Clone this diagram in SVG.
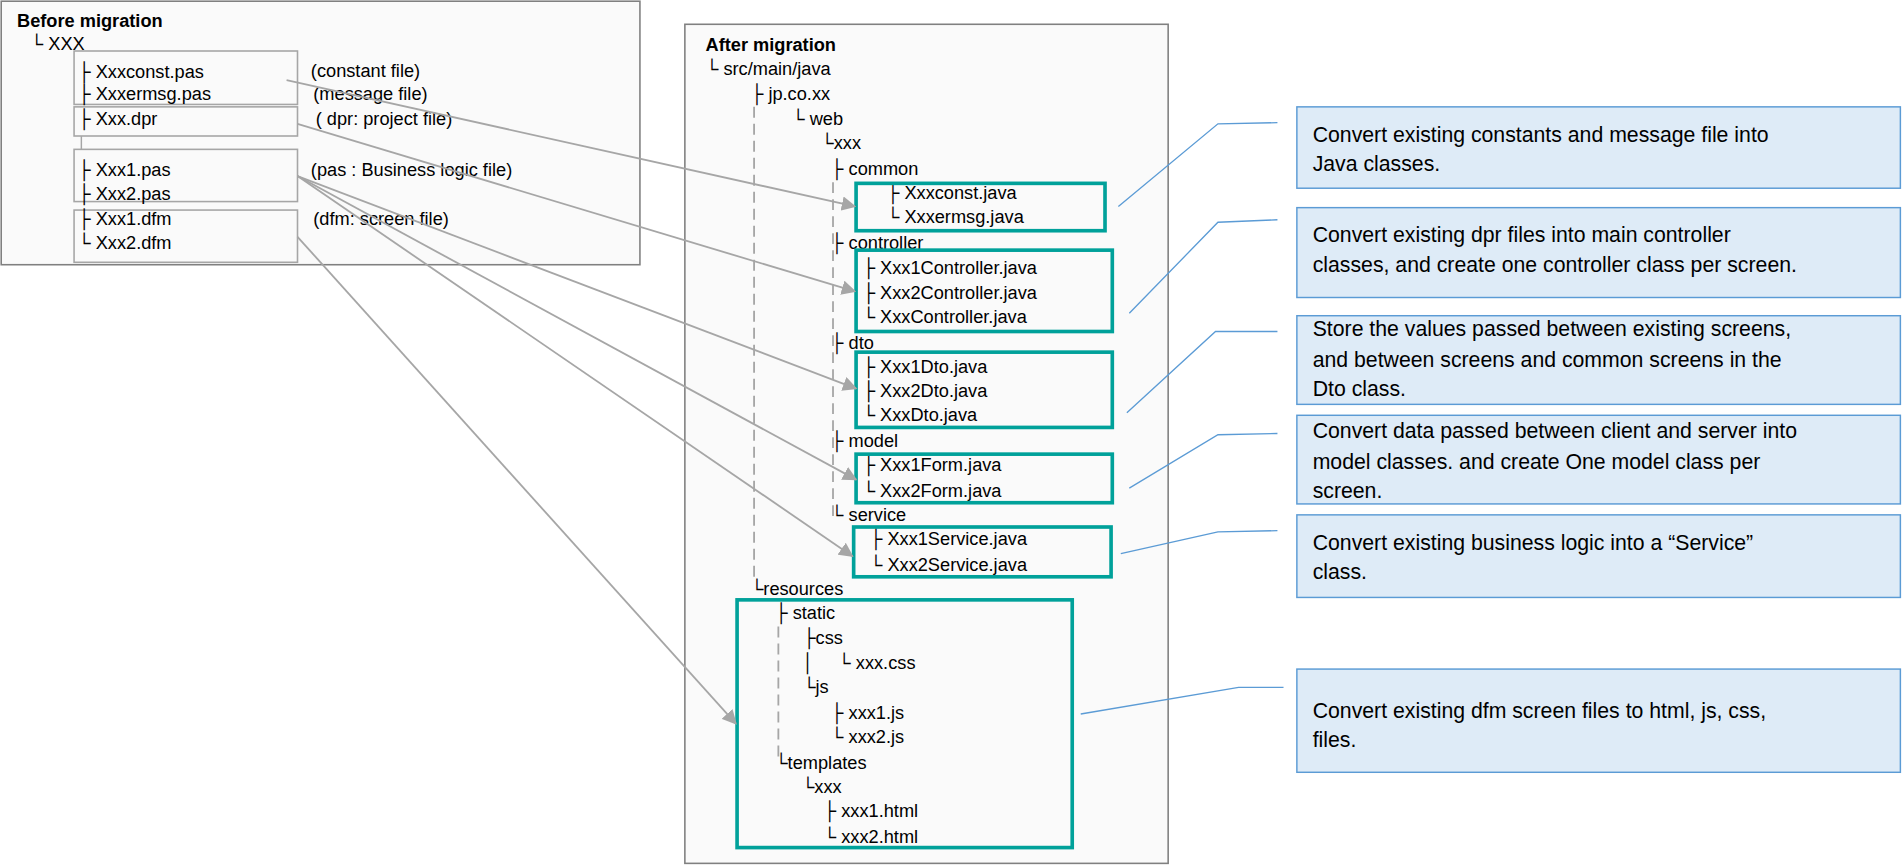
<svg xmlns="http://www.w3.org/2000/svg" width="1904" height="865" viewBox="0 0 1904 865">
<style>
text{font-family:"Liberation Sans","Noto Sans CJK JP",sans-serif;fill:#000}
.t{font-size:15px}
.b{font-size:15px;font-weight:bold}
.d{font-size:17.5px}
.panel{fill:#fafafa;stroke:#808080;stroke-width:1.3}
.gbox{fill:none;stroke:#a6a6a6;stroke-width:1.3}
.teal{fill:none;stroke:#00a19a;stroke-width:3}
.desc{fill:#deebf7;stroke:#5b9bd5;stroke-width:1.2}
.dash{stroke:#a6a6a6;stroke-width:1.5;stroke-dasharray:9,5;fill:none}
.arr{stroke:#a6a6a6;stroke-width:1.5;fill:none;marker-end:url(#ah)}
.call{stroke:#5b9bd5;stroke-width:1.1;fill:none}
</style>
<defs>
<marker id="ah" viewBox="0 0 10 10" refX="9" refY="5" markerWidth="12" markerHeight="12" markerUnits="userSpaceOnUse" orient="auto"><path d="M0,0L10,5L0,10z" fill="#a6a6a6"/></marker>
</defs>
<rect width="1904" height="865" fill="#fff"/>
<g transform="scale(1.2143)">
<g id="before">
<rect class="panel" x="1" y="1" width="526" height="217"/>
<text class="b" x="14" y="22">Before migration</text>
<text class="t" x="25" y="41">└ XXX</text>
<rect class="gbox" x="61" y="42" width="184" height="44"/>
<rect class="gbox" x="61" y="88" width="184" height="24"/>
<rect class="gbox" x="61" y="123" width="184" height="43"/>
<rect class="gbox" x="61" y="173" width="184" height="43"/>
<line x1="67" y1="112" x2="67" y2="123" stroke="#a6a6a6" stroke-width="1.2"/>
<text class="t" x="64" y="64">├ Xxxconst.pas</text>
<text class="t" x="64" y="82">├ Xxxermsg.pas</text>
<text class="t" x="64" y="103">├ Xxx.dpr</text>
<text class="t" x="64" y="145">├ Xxx1.pas</text>
<text class="t" x="64" y="165">├ Xxx2.pas</text>
<text class="t" x="64" y="185">├ Xxx1.dfm</text>
<text class="t" x="64" y="205">└ Xxx2.dfm</text>
<text class="t" x="256" y="63">(constant file)</text>
<text class="t" x="258" y="82">(message file)</text>
<text class="t" x="260" y="103">( dpr: project file)</text>
<text class="t" x="256" y="145">(pas : Business logic file)</text>
<text class="t" x="258" y="185">(dfm: screen file)</text>
</g>
<g id="after">
<rect class="panel" x="564" y="20" width="398" height="691"/>
<text class="b" x="581" y="42">After migration</text>
<text class="t" x="581" y="62">└ src/main/java</text>
<path class="dash" d="M621,88V480M686,150V425M641,516V625"/>
<text class="t" x="618" y="82">├ jp.co.xx</text>
<text class="t" x="652" y="103">└ web</text>
<text class="t" x="676" y="123">└xxx</text>
<text class="t" x="684" y="144">├ common</text>
<text class="t" x="730" y="164">├ Xxxconst.java</text>
<text class="t" x="730" y="184">└ Xxxermsg.java</text>
<text class="t" x="684" y="205">├ controller</text>
<text class="t" x="710" y="226">├ Xxx1Controller.java</text>
<text class="t" x="710" y="246">├ Xxx2Controller.java</text>
<text class="t" x="710" y="266">└ XxxController.java</text>
<text class="t" x="684" y="287">├ dto</text>
<text class="t" x="710" y="307">├ Xxx1Dto.java</text>
<text class="t" x="710" y="327">├ Xxx2Dto.java</text>
<text class="t" x="710" y="347">└ XxxDto.java</text>
<text class="t" x="684" y="368">├ model</text>
<text class="t" x="710" y="388">├ Xxx1Form.java</text>
<text class="t" x="710" y="409">└ Xxx2Form.java</text>
<text class="t" x="684" y="429">└ service</text>
<text class="t" x="716" y="449">├ Xxx1Service.java</text>
<text class="t" x="716" y="470">└ Xxx2Service.java</text>
<text class="t" x="618" y="490">└resources</text>
<text class="t" x="638" y="510">├ static</text>
<text class="t" x="661" y="530">├css</text>
<text class="t" x="661" y="551">│</text>
<text class="t" x="690" y="551">└ xxx.css</text>
<text class="t" x="661" y="571">└js</text>
<text class="t" x="684" y="592">├ xxx1.js</text>
<text class="t" x="684" y="612">└ xxx2.js</text>
<text class="t" x="638" y="633">└templates</text>
<text class="t" x="660" y="653">└xxx</text>
<text class="t" x="678" y="673">├ xxx1.html</text>
<text class="t" x="678" y="694">└ xxx2.html</text>
<rect class="teal" x="705" y="151" width="205" height="39"/>
<rect class="teal" x="705" y="206" width="211" height="67"/>
<rect class="teal" x="705" y="290" width="211" height="62"/>
<rect class="teal" x="705" y="374" width="211" height="40"/>
<rect class="teal" x="703" y="434" width="212" height="41"/>
<rect class="teal" x="607" y="494" width="276" height="204"/>
</g>
<g id="d1"><rect class="desc" x="1068" y="88" width="497" height="67"/>
<text class="d" x="1081" y="117">Convert existing constants and message file into</text><text class="d" x="1081" y="141">Java classes.</text></g>
<g id="d2"><rect class="desc" x="1068" y="171" width="497" height="74"/>
<text class="d" x="1081" y="199">Convert existing dpr files  into main controller</text><text class="d" x="1081" y="224">classes, and create one controller class per screen.</text></g>
<g id="d3"><rect class="desc" x="1068" y="260" width="497" height="73"/>
<text class="d" x="1081" y="277">Store the values passed between existing screens,</text><text class="d" x="1081" y="302">and between screens and common screens in the</text><text class="d" x="1081" y="326">Dto class.</text></g>
<g id="d4"><rect class="desc" x="1068" y="342" width="497" height="73"/>
<text class="d" x="1081" y="361">Convert data passed between client and server into</text><text class="d" x="1081" y="386">model classes. and create One model class per</text><text class="d" x="1081" y="410">screen.</text></g>
<g id="d5"><rect class="desc" x="1068" y="424" width="497" height="68"/>
<text class="d" x="1081" y="453">Convert existing business logic into a “Service”</text><text class="d" x="1081" y="477">class.</text></g>
<g id="d6"><rect class="desc" x="1068" y="551" width="497" height="85"/>
<text class="d" x="1081" y="591">Convert existing dfm screen files to html, js, css,</text><text class="d" x="1081" y="615">files.</text></g>
<g id="connectors">
<path class="arr" d="M236,66L704,170"/>
<path class="arr" d="M245,102L704,240"/>
<path class="arr" d="M245,145L705,320"/>
<path class="arr" d="M245,145L705,395"/>
<path class="arr" d="M245,145L702,458"/>
<path class="arr" d="M245,195L606,596"/>
<path class="call" d="M921,170L1003,102L1052,101"/>
<path class="call" d="M930,258L1003,183L1052,181"/>
<path class="call" d="M928,340L1001,273L1052,273"/>
<path class="call" d="M930,402L1003,358L1052,357"/>
<path class="call" d="M923,456L1003,438L1052,437"/>
<path class="call" d="M890,588L1020,566L1057,566"/>
</g>
</g>
</svg>
